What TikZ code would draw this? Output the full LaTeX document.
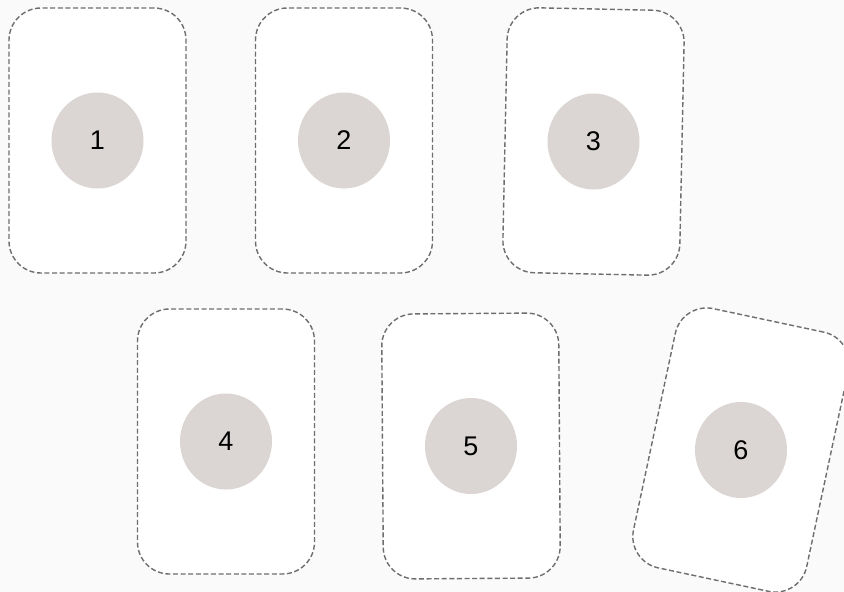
\documentclass[tikz,border=0pt]{standalone}
\usepackage{fontspec}
\setmainfont{Liberation Sans}
\usepackage{xcolor}
\usepackage{tikz}
\usetikzlibrary{positioning, shapes.geometric}
\definecolor{pagebg}{RGB}{250,250,250}
\definecolor{dashgray}{RGB}{110,110,110}
\definecolor{dotgray}{RGB}{219,214,212}

\begin{document}
\begin{tikzpicture}[x=1pt, y=-1pt,
    every node/.style={font=\fontsize{27}{30}\selectfont},
    card/.style={draw=dashgray, line width=1.4pt, dash pattern=on 5pt off 2.6pt,
                 fill=white, rounded corners=32pt, minimum width=177pt,
                 minimum height=265pt, inner sep=0pt},
    dot/.style={ellipse, fill=dotgray, minimum width=92pt, minimum height=96pt,
                inner sep=0pt}]
    % Page
    \fill[pagebg] (0,0) rectangle (844,592);
    \useasboundingbox (0,0) rectangle (844,592);

    % Top row
    \node[card] (card1) at (97.5,140.5) {};
    \node[card] (card2) at (344,140.5) {};
    \node[card, rotate=-1.2] (card3) at (593.5,141.5) {};
    \node[dot] (dot1) at (card1.center) {1};
    \node[dot] (dot2) at (card2.center) {2};
    \node[dot] (dot3) at (card3.center) {3};

    % Bottom row
    \node[card] (card4) at (226,441.5) {};
    \node[card, rotate=0.4] (card5) at (471,446) {};
    \node[card, rotate=-12] (card6) at (741,450) {};
    \node[dot] (dot4) at (card4.center) {4};
    \node[dot] (dot5) at (card5.center) {5};
    \node[dot] (dot6) at (card6.center) {6};
\end{tikzpicture}
\end{document}
